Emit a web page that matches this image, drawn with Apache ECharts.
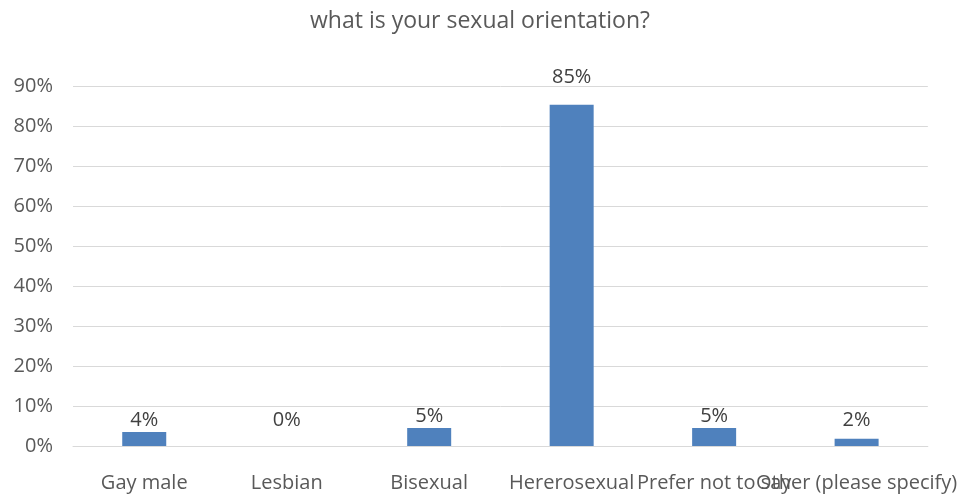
<!DOCTYPE html>
<html>
<head>
<meta charset="utf-8">
<script src="https://cdn.jsdelivr.net/npm/echarts@6/dist/echarts.min.js"></script>
<style>
  html, body { margin: 0; padding: 0; background: #fff; }
  #chart { width: 960px; height: 499px; }
</style>
</head>
<body>
<div id="chart"></div>
<script>
// 数据
var categories = ["Gay male", "Lesbian", "Bisexual", "Hererosexual", "Prefer not to say", "Other (please specify)"];
var percentValues = [3.5, 0, 4.5, 85.3, 4.5, 1.8];
var pointLabels = ["4%", "0%", "5%", "85%", "5%", "2%"];
var yTicks = [0, 10, 20, 30, 40, 50, 60, 70, 80, 90];

var font = "Open Sans";
var chart = echarts.init(document.getElementById("chart"));

// 小柱子的标签在 Excel 里基本在同一高度
function labelDistance(v) {
  return v > 50 ? 18 : Math.max(2, 2 + (3.5 - v) * 4);
}

chart.setOption({
  animation: false,
  title: {
    text: "what is your sexual orientation?",
    left: "center",
    top: 5,
    textStyle: { fontFamily: font, fontSize: 23, fontWeight: "normal", color: "#595959" }
  },
  grid: { left: 73, right: 29, top: 86, bottom: 53 },
  xAxis: {
    type: "category",
    data: categories,
    axisLine: { lineStyle: { color: "#d9d9d9", width: 1 } },
    axisTick: { show: false },
    axisLabel: {
      interval: 0,
      hideOverlap: false,
      margin: 27,
      fontFamily: font,
      fontSize: 20,
      color: "#595959"
    }
  },
  yAxis: {
    type: "value",
    min: yTicks[0],
    max: yTicks[yTicks.length - 1],
    interval: 10,
    axisLine: { show: false },
    axisTick: { show: false },
    splitLine: { lineStyle: { color: "#d9d9d9", width: 1 } },
    axisLabel: {
      margin: 20,
      fontFamily: font,
      fontSize: 20,
      color: "#595959",
      formatter: function (v) { return v + "%"; }
    }
  },
  series: [{
    type: "bar",
    data: percentValues.map(function (v) {
      return { value: v, label: { distance: labelDistance(v) } };
    }),
    barWidth: 44,
    itemStyle: { color: "#4f81bd" },
    label: {
      show: true,
      position: "top",
      fontFamily: font,
      fontSize: 20,
      color: "#404040",
      formatter: function (p) { return pointLabels[p.dataIndex]; }
    }
  }]
});
</script>
</body>
</html>
